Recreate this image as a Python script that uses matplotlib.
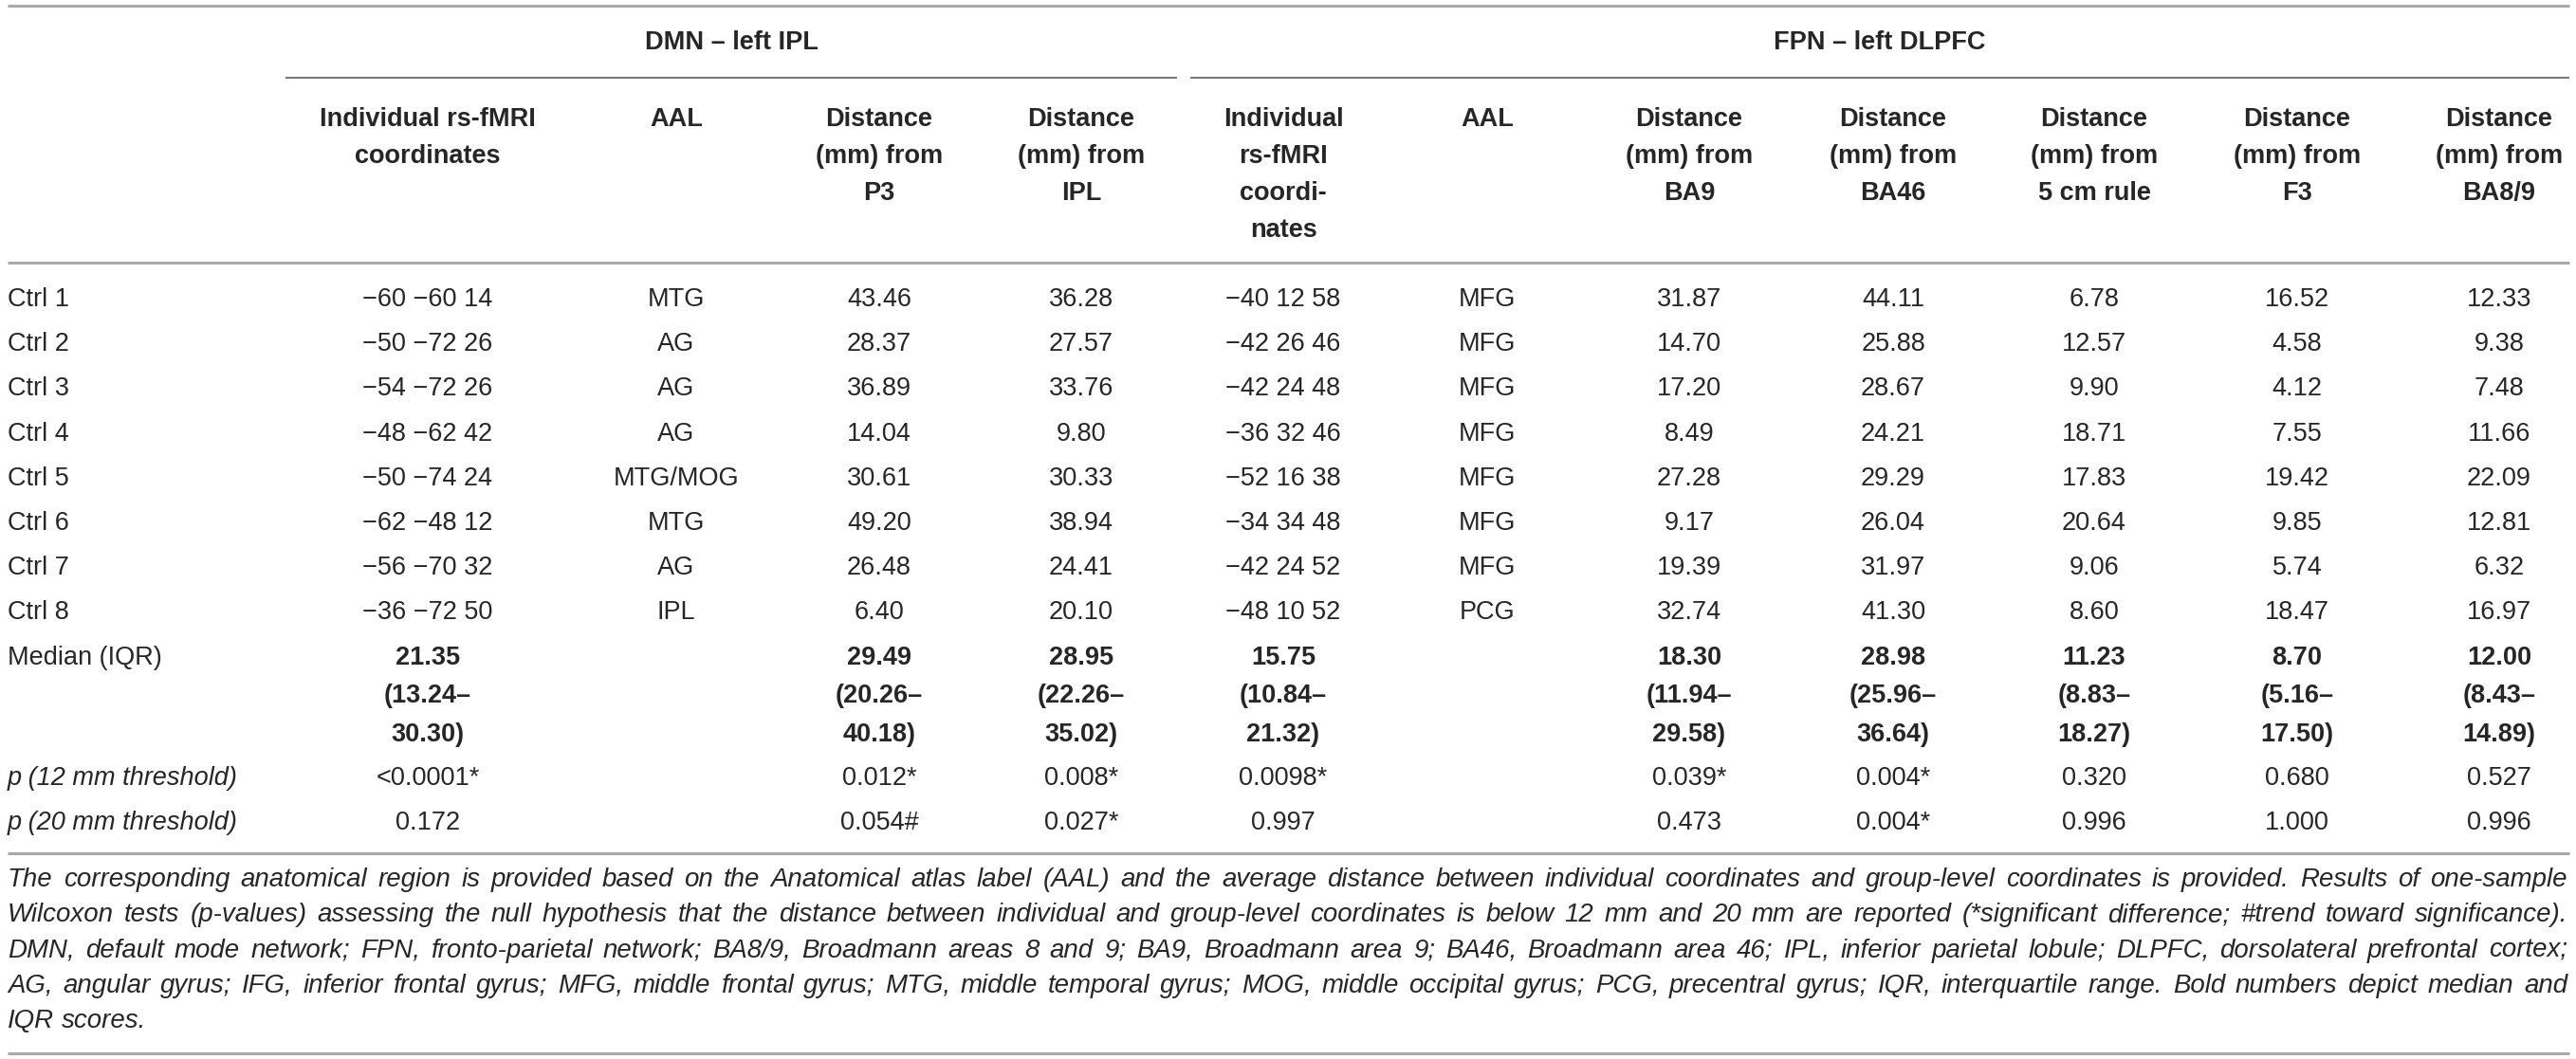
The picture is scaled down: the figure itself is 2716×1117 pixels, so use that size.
import matplotlib
matplotlib.use('Agg')
import matplotlib.pyplot as plt

# ---------------- data ----------------
row_labels = ["Ctrl 1", "Ctrl 2", "Ctrl 3", "Ctrl 4", "Ctrl 5", "Ctrl 6", "Ctrl 7", "Ctrl 8"]

group_titles = ["DMN \u2013 left IPL", "FPN \u2013 left DLPFC"]

col_headers = [
    ["Individual rs-fMRI", "coordinates"],
    ["AAL"],
    ["Distance", "(mm) from", "P3"],
    ["Distance", "(mm) from", "IPL"],
    ["Individual", "rs-fMRI", "coordi-", "nates"],
    ["AAL"],
    ["Distance", "(mm) from", "BA9"],
    ["Distance", "(mm) from", "BA46"],
    ["Distance", "(mm) from", "5 cm rule"],
    ["Distance", "(mm) from", "F3"],
    ["Distance", "(mm) from", "BA8/9"],
]

dmn_coords = ["\u221260 \u221260 14", "\u221250 \u221272 26", "\u221254 \u221272 26", "\u221248 \u221262 42",
              "\u221250 \u221274 24", "\u221262 \u221248 12", "\u221256 \u221270 32", "\u221236 \u221272 50"]
dmn_aal = ["MTG", "AG", "AG", "AG", "MTG/MOG", "MTG", "AG", "IPL"]
dmn_p3 = [43.46, 28.37, 36.89, 14.04, 30.61, 49.20, 26.48, 6.40]
dmn_ipl = [36.28, 27.57, 33.76, 9.80, 30.33, 38.94, 24.41, 20.10]

fpn_coords = ["\u221240 12 58", "\u221242 26 46", "\u221242 24 48", "\u221236 32 46",
              "\u221252 16 38", "\u221234 34 48", "\u221242 24 52", "\u221248 10 52"]
fpn_aal = ["MFG", "MFG", "MFG", "MFG", "MFG", "MFG", "MFG", "PCG"]
fpn_ba9 = [31.87, 14.70, 17.20, 8.49, 27.28, 9.17, 19.39, 32.74]
fpn_ba46 = [44.11, 25.88, 28.67, 24.21, 29.29, 26.04, 31.97, 41.30]
fpn_5cm = [6.78, 12.57, 9.90, 18.71, 17.83, 20.64, 9.06, 8.60]
fpn_f3 = [16.52, 4.58, 4.12, 7.55, 19.42, 9.85, 5.74, 18.47]
fpn_ba89 = [12.33, 9.38, 7.48, 11.66, 22.09, 12.81, 6.32, 16.97]

median_label = "Median (IQR)"
median_vals = [21.35, None, 29.49, 28.95, 15.75, None, 18.30, 28.98, 11.23, 8.70, 12.00]
iqr_low = [13.24, None, 20.26, 22.26, 10.84, None, 11.94, 25.96, 8.83, 5.16, 8.43]
iqr_high = [30.30, None, 40.18, 35.02, 21.32, None, 29.58, 36.64, 18.27, 17.50, 14.89]

p_labels = ["p (12 mm threshold)", "p (20 mm threshold)"]
p12 = ["<0.0001*", "", "0.012*", "0.008*", "0.0098*", "", "0.039*", "0.004*", "0.320", "0.680", "0.527"]
p20 = ["0.172", "", "0.054#", "0.027*", "0.997", "", "0.473", "0.004*", "0.996", "1.000", "0.996"]

footnote = [
    "The corresponding anatomical region is provided based on the Anatomical atlas label (AAL) and the average distance between individual coordinates and group-level coordinates is provided. Results of one-sample",
    "Wilcoxon tests (p-values) assessing the null hypothesis that the distance between individual and group-level coordinates is below 12 mm and 20 mm are reported (*significant difference; #trend toward significance).",
    "DMN, default mode network; FPN, fronto-parietal network; BA8/9, Broadmann areas 8 and 9; BA9, Broadmann area 9; BA46, Broadmann area 46; IPL, inferior parietal lobule; DLPFC, dorsolateral prefrontal cortex;",
    "AG, angular gyrus; IFG, inferior frontal gyrus; MFG, middle frontal gyrus; MTG, middle temporal gyrus; MOG, middle occipital gyrus; PCG, precentral gyrus; IQR, interquartile range. Bold numbers depict median and",
    "IQR scores.",
]

# ---------------- layout ----------------
W, H = 2716, 1117
fig = plt.figure(figsize=(W / 100, H / 100), dpi=100)
ax = fig.add_axes([0, 0, 1, 1])
ax.set_xlim(0, W)
ax.set_ylim(H, 0)
ax.axis('off')

FONT = 'Liberation Sans'
TXT = '#262626'
FS = 19.5
LINE_GREY = '#a9a9a9'
SUB_GREY = '#7a7a7a'

x_left = 8
x_right = 2709
col_x = [451, 713, 927, 1140, 1353, 1568, 1781, 1996, 2208, 2422, 2635]
group_spans = [(301, 1241), (1255, 2709)]


def txt(x, y, s, ha='center', weight='normal', style='normal', size=FS):
    return ax.text(x, y, s, ha=ha, va='baseline', fontsize=size, family=FONT,
                   fontweight=weight, fontstyle=style, color=TXT)


# rules
ax.plot([x_left, x_right], [5.5, 5.5], color=LINE_GREY, lw=2.2, solid_capstyle='butt')
for (a, b) in group_spans:
    ax.plot([a, b], [82, 82], color=SUB_GREY, lw=1.5, solid_capstyle='butt')
ax.plot([x_left, x_right], [276.5, 276.5], color=LINE_GREY, lw=2.2, solid_capstyle='butt')
ax.plot([x_left, x_right], [899.5, 899.5], color=LINE_GREY, lw=2.2, solid_capstyle='butt')
ax.plot([x_left, x_right], [1110.5, 1110.5], color=LINE_GREY, lw=2.2, solid_capstyle='butt')

# group titles
for (a, b), t in zip(group_spans, group_titles):
    txt((a + b) / 2, 52, t, weight='bold')

# column headers
head_base = [133, 172, 211, 250]
for x, lines in zip(col_x, col_headers):
    for k, line in enumerate(lines):
        txt(x, head_base[k], line, weight='bold')

# body rows
columns = [dmn_coords, dmn_aal, dmn_p3, dmn_ipl, fpn_coords, fpn_aal,
           fpn_ba9, fpn_ba46, fpn_5cm, fpn_f3, fpn_ba89]
row_base0 = 323
row_step = 47.2
for i, lab in enumerate(row_labels):
    y = row_base0 + i * row_step
    txt(x_left, y, lab, ha='left')
    for x, col in zip(col_x, columns):
        v = col[i]
        s = v if isinstance(v, str) else f"{v:.2f}"
        txt(x, y, s)

# median rows
ym = row_base0 + 8 * row_step
txt(x_left, ym, median_label, ha='left')
for x, m, lo, hi in zip(col_x, median_vals, iqr_low, iqr_high):
    if m is None:
        continue
    txt(x, ym, f"{m:.2f}", weight='bold')
    txt(x, ym + 40.5, f"({lo:.2f}\u2013", weight='bold')
    txt(x, ym + 81, f"{hi:.2f})", weight='bold')

# p rows
for lab, vals, y in zip(p_labels, [p12, p20], [828, 875]):
    txt(x_left, y, lab, ha='left', style='italic')
    for x, s in zip(col_x, vals):
        if s:
            txt(x, y, s)

# footnote (justified)
fig.canvas.draw()
r = fig.canvas.get_renderer()
FN_FS = 19.9
fn_base = 935
fn_step = 37.3
for i, line in enumerate(footnote):
    y = fn_base + i * fn_step
    words = line.split(' ')
    ts = [ax.text(0, y, w, ha='left', va='baseline', fontsize=FN_FS, family=FONT,
                  fontstyle='italic', color=TXT) for w in words]
    widths = [t.get_window_extent(r).width for t in ts]
    if i < len(footnote) - 1 and len(words) > 1:
        gap = (x_right - 2 - x_left - sum(widths)) / (len(words) - 1)
    else:
        sp = ax.text(0, 0, 'a a', fontsize=FN_FS, family=FONT, fontstyle='italic')
        sp2 = ax.text(0, 0, 'aa', fontsize=FN_FS, family=FONT, fontstyle='italic')
        gap = sp.get_window_extent(r).width - sp2.get_window_extent(r).width
        sp.remove()
        sp2.remove()
    x = x_left
    for t, w in zip(ts, widths):
        t.set_x(x)
        x += w + gap

fig.savefig('out.png', dpi=100, facecolor='white')
